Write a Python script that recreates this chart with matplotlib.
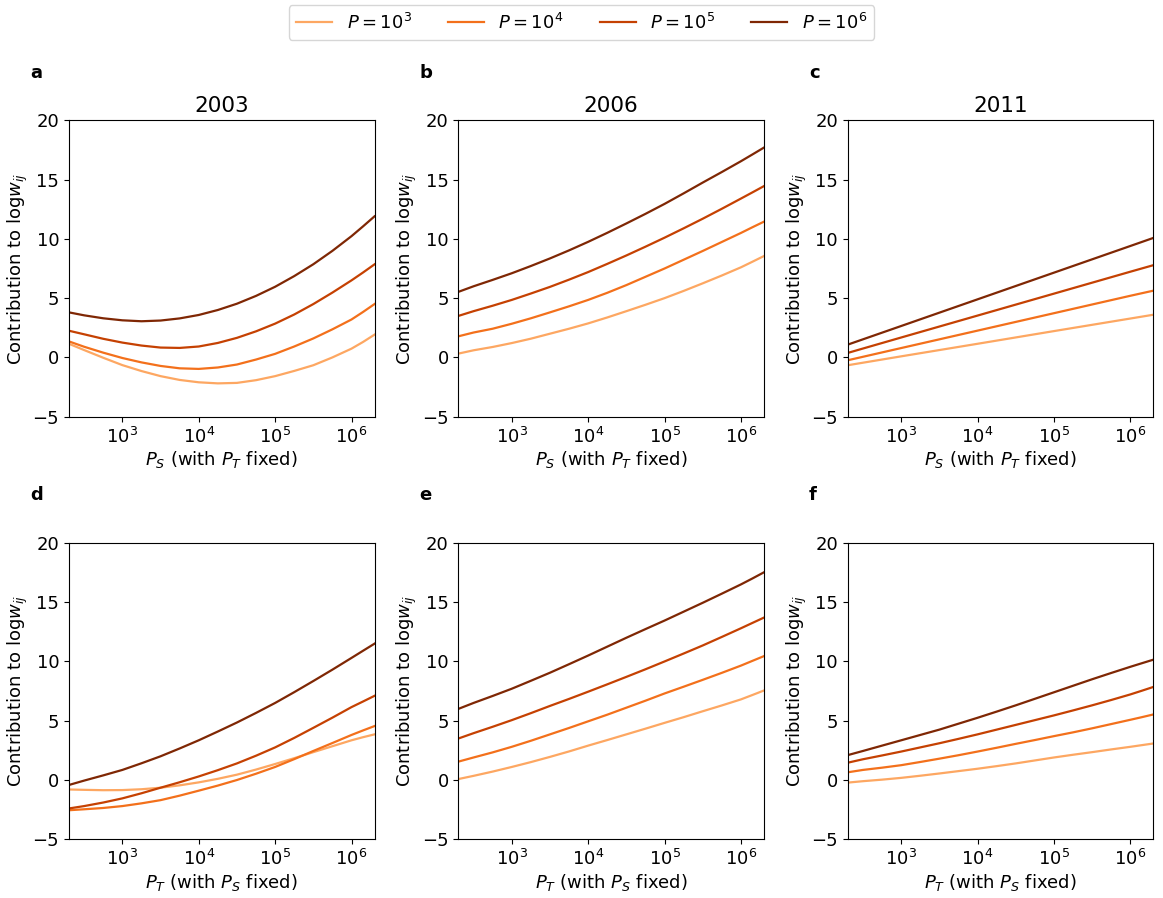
import numpy as np
import matplotlib
matplotlib.use("Agg")
import matplotlib.pyplot as plt
from matplotlib.ticker import LogLocator, NullLocator

# x positions where the curves were read (quarter decades, plus the axis ends)
x_read = [200, 316, 562, 1e3, 1778, 3162, 5623, 1e4, 17783, 31623, 56234,
          1e5, 177828, 316228, 562341, 1e6, 1412538, 2e6]
x_line = [200, 1e3, 1e4, 1e5, 1e6, 2e6]

legend_labels = [r"$P=10^3$", r"$P=10^4$", r"$P=10^5$", r"$P=10^6$"]
years = ["2003", "2006", "2011"]
letters = ["a", "b", "c", "d", "e", "f"]

# top row: contribution vs P_S (P_T fixed); one list per P value (10^3 .. 10^6)
panel_a = [
    [1.15, 0.62, -0.03, -0.65, -1.15, -1.58, -1.90, -2.10, -2.19, -2.15, -1.92,
     -1.58, -1.14, -0.66, 0.00, 0.74, 1.30, 1.92],
    [1.35, 0.90, 0.40, -0.05, -0.42, -0.72, -0.92, -0.97, -0.85, -0.60, -0.18,
     0.30, 0.92, 1.60, 2.37, 3.20, 3.83, 4.50],
    [2.25, 1.95, 1.57, 1.25, 1.00, 0.83, 0.80, 0.92, 1.22, 1.65, 2.20,
     2.85, 3.62, 4.50, 5.47, 6.50, 7.16, 7.85],
    [3.80, 3.55, 3.30, 3.13, 3.05, 3.11, 3.29, 3.58, 4.00, 4.53, 5.19,
     5.96, 6.86, 7.86, 8.99, 10.23, 11.05, 11.90],
]
panel_b = [
    [0.32, 0.60, 0.88, 1.21, 1.58, 2.00, 2.42, 2.87, 3.37, 3.90, 4.44,
     5.00, 5.61, 6.25, 6.91, 7.60, 8.07, 8.55],
    [1.78, 2.10, 2.42, 2.84, 3.30, 3.80, 4.31, 4.85, 5.45, 6.10, 6.80,
     7.50, 8.24, 8.98, 9.74, 10.50, 10.98, 11.45],
    [3.50, 3.90, 4.36, 4.85, 5.39, 5.95, 6.56, 7.20, 7.89, 8.60, 9.34,
     10.10, 10.89, 11.70, 12.54, 13.40, 13.92, 14.45],
    [5.53, 6.00, 6.54, 7.10, 7.71, 8.35, 9.03, 9.75, 10.51, 11.30, 12.11,
     12.95, 13.84, 14.75, 15.64, 16.55, 17.12, 17.70],
]
panel_c = [
    [-0.66, 0.09, 1.15, 2.22, 3.28, 3.60],
    [-0.24, 0.79, 2.26, 3.73, 5.20, 5.63],
    [0.38, 1.68, 3.53, 5.38, 7.23, 7.78],
    [1.08, 2.65, 4.90, 7.15, 9.40, 10.08],
]

# bottom row: contribution vs P_T (P_S fixed)
panel_d = [
    [-0.80, -0.83, -0.86, -0.85, -0.78, -0.65, -0.45, -0.20, 0.10, 0.45, 0.88,
     1.35, 1.84, 2.35, 2.85, 3.35, 3.61, 3.85],
    [-2.55, -2.47, -2.36, -2.20, -1.97, -1.70, -1.32, -0.90, -0.47, 0.00, 0.53,
     1.10, 1.76, 2.45, 3.12, 3.80, 4.18, 4.55],
    [-2.40, -2.20, -1.90, -1.55, -1.12, -0.65, -0.19, 0.30, 0.83, 1.40, 2.05,
     2.75, 3.55, 4.40, 5.26, 6.15, 6.62, 7.10],
    [-0.42, -0.05, 0.39, 0.85, 1.41, 2.00, 2.66, 3.35, 4.09, 4.85, 5.66,
     6.50, 7.41, 8.35, 9.31, 10.30, 10.90, 11.50],
]
panel_e = [
    [0.08, 0.35, 0.71, 1.10, 1.51, 1.95, 2.41, 2.90, 3.37, 3.85, 4.33,
     4.82, 5.30, 5.80, 6.29, 6.80, 7.17, 7.55],
    [1.55, 1.90, 2.33, 2.80, 3.31, 3.85, 4.39, 4.95, 5.51, 6.10, 6.69,
     7.30, 7.87, 8.45, 9.04, 9.65, 10.05, 10.45],
    [3.50, 3.95, 4.49, 5.05, 5.64, 6.25, 6.84, 7.45, 8.07, 8.70, 9.34,
     10.00, 10.67, 11.35, 12.07, 12.80, 13.25, 13.70],
    [6.00, 6.50, 7.09, 7.70, 8.37, 9.05, 9.77, 10.50, 11.25, 12.00, 12.73,
     13.45, 14.20, 14.95, 15.72, 16.50, 17.00, 17.52],
]
panel_f = [
    [-0.22, -0.10, 0.03, 0.18, 0.36, 0.55, 0.75, 0.95, 1.17, 1.40, 1.65,
     1.90, 2.13, 2.35, 2.58, 2.80, 2.94, 3.08],
    [0.65, 0.85, 1.04, 1.25, 1.52, 1.80, 2.09, 2.40, 2.72, 3.05, 3.37,
     3.70, 4.02, 4.36, 4.72, 5.08, 5.30, 5.53],
    [1.46, 1.75, 2.07, 2.40, 2.75, 3.10, 3.47, 3.85, 4.25, 4.65, 5.05,
     5.45, 5.87, 6.30, 6.75, 7.22, 7.53, 7.85],
    [2.10, 2.45, 2.90, 3.35, 3.80, 4.25, 4.75, 5.25, 5.77, 6.30, 6.85,
     7.40, 7.95, 8.50, 9.03, 9.55, 9.85, 10.15],
]

colors = plt.cm.Oranges(np.linspace(0.4, 1.0, 4))
FS = 13


def draw_panel(ax, xs, curves, xlabel):
    """Draw the four P curves of one panel on a log x axis."""
    for ys, c, lab in zip(curves, colors, legend_labels):
        ax.plot(xs, ys, color=c, lw=1.6, label=lab)
    ax.set_xscale("log")
    ax.set_xlim(200, 2e6)
    ax.set_ylim(-5, 20)
    ax.set_yticks([-5, 0, 5, 10, 15, 20])
    ax.xaxis.set_major_locator(LogLocator(base=10, subs=(1.0,)))
    ax.xaxis.set_minor_locator(NullLocator())
    ax.set_xlabel(xlabel, fontsize=FS, labelpad=2)
    ax.set_ylabel(r"Contribution to log$w_{ij}$", fontsize=FS, labelpad=2)
    ax.tick_params(labelsize=FS)


fig, axes = plt.subplots(2, 3, figsize=(11.63, 8.98), dpi=100)
fig.subplots_adjust(left=0.0593, right=0.9917, bottom=0.0654, top=0.866,
                    wspace=0.2745, hspace=0.426)

top = [(x_read, panel_a), (x_read, panel_b), (x_line, panel_c)]
bottom = [(x_read, panel_d), (x_read, panel_e), (x_read, panel_f)]

for i, (xs, data) in enumerate(top):
    ax = axes[0, i]
    draw_panel(ax, xs, data, r"$P_S$ (with $P_T$ fixed)")
    ax.set_title(years[i], fontsize=15.5)
for i, (xs, data) in enumerate(bottom):
    draw_panel(axes[1, i], xs, data, r"$P_T$ (with $P_S$ fixed)")

for ax, letter in zip(axes.flat, letters):
    ax.text(-0.127, 1.13, letter, transform=ax.transAxes, fontsize=FS,
            fontweight="bold", ha="left", va="bottom")

handles, labels = axes[0, 0].get_legend_handles_labels()
fig.legend(handles, labels, loc="upper center", bbox_to_anchor=(0.5, 1.004),
           ncol=4, fontsize=FS, columnspacing=2.0)

fig.savefig("out.png", dpi=100)
